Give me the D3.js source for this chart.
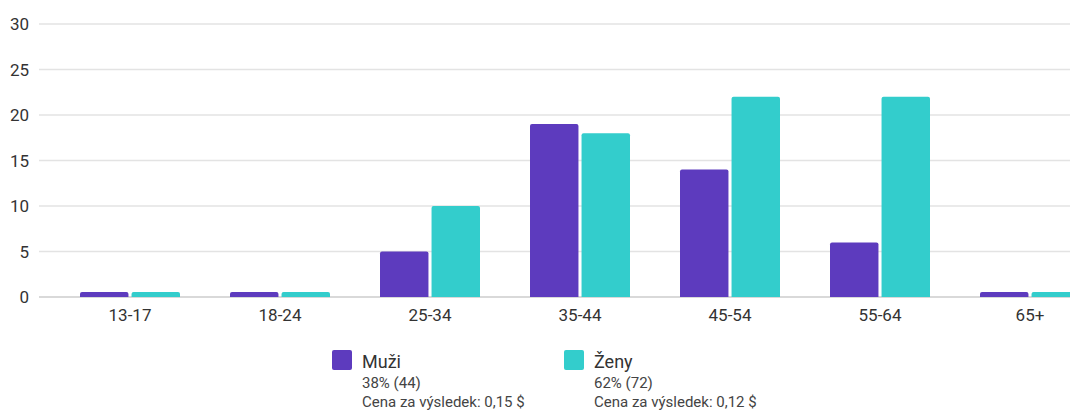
<!DOCTYPE html>
<html>
<head>
<meta charset="utf-8">
<script src="https://cdn.jsdelivr.net/npm/d3@7"></script>
<style>
  html, body { margin: 0; padding: 0; background: #fff; }
  svg { display: block; font-family: Roboto, "Noto Sans", sans-serif; }
</style>
</head>
<body>
<svg id="chart" width="1070" height="411"></svg>
<script>
// Age groups and audience counts per gender
const categories = ["13-17", "18-24", "25-34", "35-44", "45-54", "55-64", "65+"];
const muzi = [0, 0, 5, 19, 14, 6, 0];
const zeny = [0, 0, 10, 18, 22, 22, 0];
const yTicks = [0, 5, 10, 15, 20, 25, 30];
const seriesNames = ["Muži", "Ženy"];
const seriesShare = ["38% (44)", "62% (72)"];
const seriesCost = ["Cena za výsledek: 0,15 $", "Cena za výsledek: 0,12 $"];

const colors = ["#5d3bbe", "#33cdcc"];
const svg = d3.select("#chart");

const plotLeft = 39, bandLeft = 55, bandRight = 1105;
const y = d3.scaleLinear().domain([0, 30]).range([297, 24]);
const x = d3.scaleBand().domain(categories).range([bandLeft, bandRight]).paddingInner(0).paddingOuter(0);
const sub = d3.scaleBand().domain([0, 1]).range([25, 125]).paddingInner(0.06);

// Gridlines and y labels
const yAxis = svg.append("g");
yTicks.forEach(t => {
  yAxis.append("line")
    .attr("x1", plotLeft).attr("x2", 1070)
    .attr("y1", y(t)).attr("y2", y(t))
    .attr("stroke", t === 0 ? "#d9d9d9" : "#e3e3e3")
    .attr("stroke-width", t === 0 ? 2 : 1.5);
  yAxis.append("text")
    .attr("x", 29).attr("y", y(t))
    .attr("dy", "0.36em")
    .attr("text-anchor", "end")
    .attr("font-size", 17)
    .attr("fill", "#333")
    .text(t);
});

// Bars with rounded top corners; empty groups keep a small stub
function barPath(x0, w, v) {
  const base = y(0);
  const h = Math.max(5, base - y(v));
  const top = base - h, r = 2;
  return `M${x0},${base}V${top + r}Q${x0},${top} ${x0 + r},${top}H${x0 + w - r}Q${x0 + w},${top} ${x0 + w},${top + r}V${base}Z`;
}

const groups = svg.append("g").selectAll("g")
  .data(categories)
  .join("g")
  .attr("transform", d => `translate(${x(d)},0)`);

groups.selectAll("path")
  .data((d, i) => [muzi[i], zeny[i]])
  .join("path")
  .attr("d", (v, j) => barPath(sub(j), sub.bandwidth(), v))
  .attr("fill", (v, j) => colors[j]);

// X labels
svg.append("g").selectAll("text")
  .data(categories)
  .join("text")
  .attr("x", d => x(d) + x.bandwidth() / 2)
  .attr("y", 321)
  .attr("text-anchor", "middle")
  .attr("font-size", 17)
  .attr("fill", "#333")
  .text(d => d);

// Legend
const legendX = [332, 564];
const legend = svg.append("g").selectAll("g")
  .data(seriesNames)
  .join("g")
  .attr("transform", (d, i) => `translate(${legendX[i]},350)`);
legend.append("rect")
  .attr("width", 20).attr("height", 20).attr("rx", 2)
  .attr("fill", (d, i) => colors[i]);
legend.append("text")
  .attr("x", 30).attr("y", 18)
  .attr("font-size", 18).attr("fill", "#333")
  .text(d => d);
legend.append("text")
  .attr("x", 30).attr("y", 38)
  .attr("font-size", 15).attr("fill", "#444")
  .text((d, i) => seriesShare[i]);
legend.append("text")
  .attr("x", 30).attr("y", 57)
  .attr("font-size", 15).attr("fill", "#444")
  .text((d, i) => seriesCost[i]);
</script>
</body>
</html>
